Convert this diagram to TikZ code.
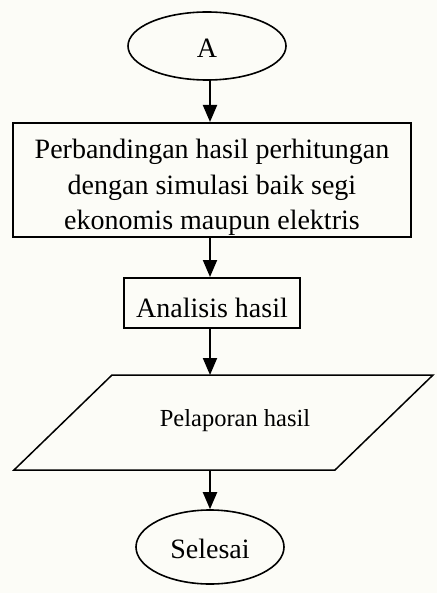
\documentclass[tikz,border=0pt]{standalone}
\usepackage{fontspec}
\setmainfont{Liberation Serif}
\usetikzlibrary{shapes.geometric,arrows.meta}
\definecolor{paper}{RGB}{252,252,247}
% strut that pushes a node's text down inside a fixed-size box
\newcommand{\lowerby}[1]{\rule{0pt}{#1}}
\begin{document}
\begin{tikzpicture}[x=1pt,y=-1pt,
  every node/.style={font=\fontsize{28}{35.5}\selectfont, inner sep=0pt},
  terminal/.style={draw, ellipse, line width=1.6pt},
  process/.style={draw, rectangle, line width=2pt, align=center},
  flow/.style={line width=2pt, -{Triangle[width=14pt,length=17pt]}},
  datashape/.style={line width=1.5pt, line join=miter}]
% page and background
\fill[paper] (0,0) rectangle (437,593);
\useasboundingbox (0,0) rectangle (437,593);
% vertical axis of the connectors
\coordinate (axis) at (210,0);
% start connector
\node[terminal, minimum width=158, minimum height=68] (a) at (207,46) {\lowerby{24pt}A};
% comparison step
\node[process, minimum width=398, minimum height=114] (r1) at (212,180)
  {\lowerby{34pt}Perbandingan hasil perhitungan\\dengan simulasi baik segi\\ekonomis maupun elektris};
% analysis step
\node[process, minimum width=176, minimum height=50] (r2) at (212,303) {\lowerby{30pt}Analisis hasil};
% reporting (input/output parallelogram)
\draw[datashape] (112,375) -- (433,375) -- (335,470) -- (14,470) -- cycle;
\coordinate (pin) at (210,375);
\coordinate (pout) at (210,470);
\node[font=\fontsize{24.5}{28}\selectfont] (p) at (235,421) {Pelaporan hasil};
% end terminal
\node[terminal, minimum width=148, minimum height=74] (s) at (210,547) {\lowerby{23pt}Selesai};
% connectors
\draw[flow] (a.south -| axis) -- (r1.north -| axis);
\draw[flow] (r1.south -| axis) -- (r2.north -| axis);
\draw[flow] (r2.south -| axis) -- (pin);
\draw[flow] (pout) -- (s.north -| axis);
\end{tikzpicture}
\end{document}
